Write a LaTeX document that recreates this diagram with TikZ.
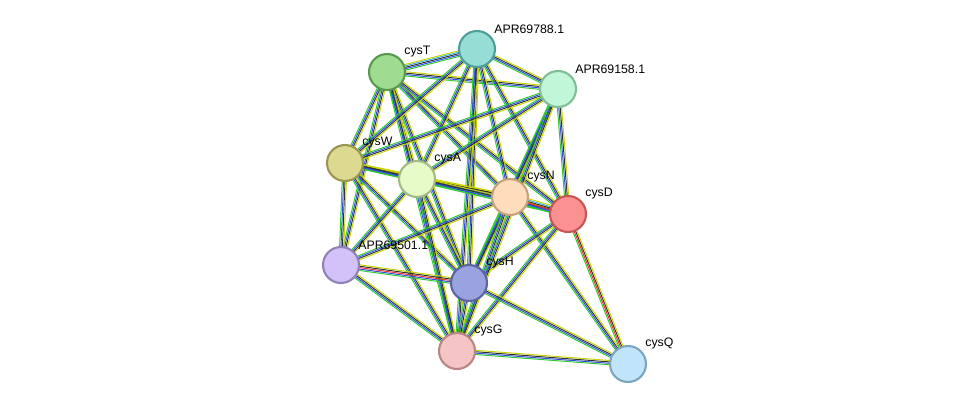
\documentclass[tikz,border=0pt]{standalone}
\usepackage{fontspec}
\setmainfont{Liberation Sans}
\usetikzlibrary{calc,backgrounds}
\newcommand{\bnd}[4]{% a, b, n, colors
  \foreach \c [count=\i] in {#4}{
    \pgfmathsetmacro\o{(\i-(#3+1)/2)*0.8}
    \draw[\c,line width=0.55pt] ($(#1)!\o pt!90:(#2)$) -- ($(#2)!\o pt!-90:(#1)$);
  }}
\begin{document}
\begin{tikzpicture}[x=0.02cm,y=-0.02cm,
  nd/.style={circle,minimum size=0.72cm,inner sep=0,line width=1.2pt},
  lb/.style={font=\fontsize{7}{8}\selectfont,anchor=south west,inner sep=0}]
\useasboundingbox (0,0) rectangle (976,410);
\definecolor{tg}{HTML}{2ECC2E}
\definecolor{ty}{HTML}{C8D400}
\definecolor{tb}{HTML}{3050E0}
\definecolor{tk}{HTML}{303030}
\definecolor{tr}{HTML}{F03030}
\definecolor{tc}{HTML}{30B0E0}
\def\P#1#2#3#4#5#6{\definecolor{f#1}{HTML}{#4}\definecolor{d#1}{HTML}{#5}%
  \node[nd,fill=f#1,draw=d#1] (#1) at (#2,#3) {};
  \node[lb] at (#2+17,#3-15) {#6};}
\P{T}{387}{72}{9FDC8F}{5A9A4F}{cysT}
\P{M}{477}{49}{96DDD5}{4E9F97}{APR69788.1}
\P{S}{558}{89}{C2F6D8}{7FBF98}{APR69158.1}
\P{W}{345}{163}{DCD990}{9A9650}{cysW}
\P{A}{417}{179}{E6FBC7}{A3BA85}{cysA}
\P{N}{510}{197}{FEDCBC}{C4A07D}{cysN}
\P{D}{568}{214}{FC9191}{C65656}{cysD}
\P{R}{341}{265}{D3C2F9}{9181B8}{APR69501.1}
\P{H}{469}{283}{9AA3DF}{5C65A1}{cysH}
\P{G}{457}{351}{F5C4C4}{B98585}{cysG}
\P{Q}{628}{364}{C0E5FB}{7CA6C0}{cysQ}
\begin{scope}[on background layer]
\foreach \a/\b in {T/S,T/W,T/A,T/N,T/D,T/R,T/H,T/G,M/S,M/W,M/A,M/N,M/D,M/H,M/G,
  S/W,S/A,S/N,S/D,S/H,W/A,W/N,W/D,W/R,W/H,W/G,A/N,A/D,A/R,A/H,A/G,N/R,N/H,N/G,N/Q,
  D/H,D/G,R/G,H/G,H/Q,G/Q,S/G}{
  \bnd{\a}{\b}{4}{tg,tb,tk,ty}}
\bnd{N}{D}{6}{tg,tb,tr,tk,tc,ty}
\bnd{R}{H}{5}{tg,tb,tr,tk,ty}
\bnd{D}{Q}{4}{tg,tr,tk,ty}
\bnd{T}{M}{5}{tg,tb,tk,tc,ty}
\end{scope}
\end{tikzpicture}
\end{document}
